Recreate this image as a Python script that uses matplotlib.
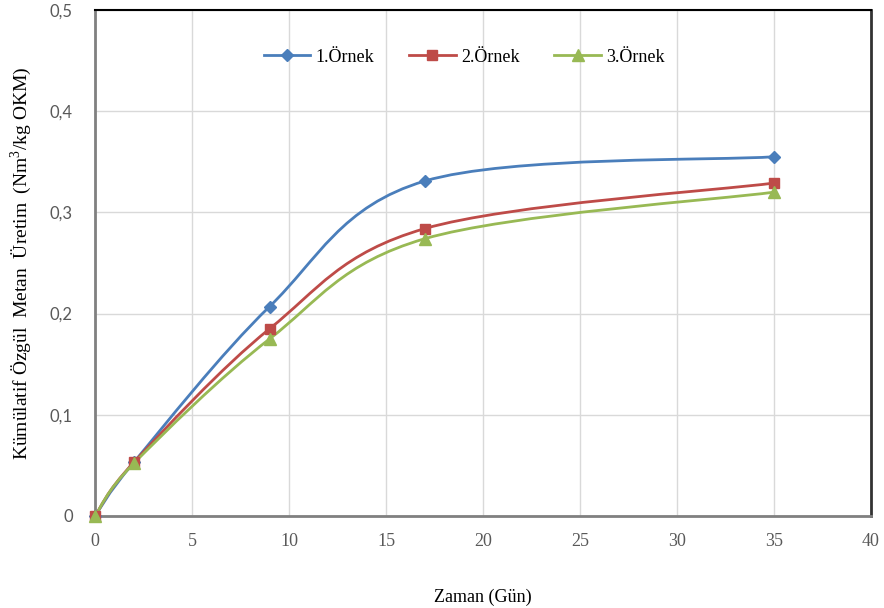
import matplotlib
matplotlib.use("Agg")
import matplotlib.pyplot as plt
from matplotlib.path import Path
from matplotlib.patches import PathPatch
from matplotlib.lines import Line2D
from matplotlib.ticker import FuncFormatter, MultipleLocator

days = [0, 2, 9, 17, 35]
ornek1 = [0.0, 0.053, 0.207, 0.331, 0.355]
ornek2 = [0.0, 0.053, 0.185, 0.284, 0.329]
ornek3 = [0.0, 0.052, 0.175, 0.274, 0.320]
labels = ["1.Örnek", "2.Örnek", "3.Örnek"]
colors = ["#4A7EBB", "#BE4B48", "#98B954"]
markers = ["D", "s", "^"]
msizes = [6, 7, 8]

fig = plt.figure(figsize=(8.84, 6.08), dpi=100)
ax = fig.add_axes([95/884, 92/608, 776/884, 506/608])


def smooth_path(xs, ys):
    pts = list(zip(xs, ys))
    n = len(pts)
    verts = [pts[0]]
    codes = [Path.MOVETO]
    for i in range(n - 1):
        p0 = pts[i - 1] if i > 0 else pts[i]
        p1 = pts[i]
        p2 = pts[i + 1]
        p3 = pts[i + 2] if i + 2 < n else pts[i + 1]
        c1 = (p1[0] + (p2[0] - p0[0]) / 6, p1[1] + (p2[1] - p0[1]) / 6)
        c2 = (p2[0] - (p3[0] - p1[0]) / 6, p2[1] - (p3[1] - p1[1]) / 6)
        verts += [c1, c2, p2]
        codes += [Path.CURVE4] * 3
    return Path(verts, codes)


handles = []
for ys, lab, c, m, ms in zip([ornek1, ornek2, ornek3], labels, colors, markers, msizes):
    patch = PathPatch(smooth_path(days, ys), facecolor="none", edgecolor=c,
                      lw=2.0, zorder=3, capstyle="round", joinstyle="round")
    ax.add_patch(patch)
    ax.plot(days, ys, linestyle="none", marker=m, color=c, markersize=ms,
            zorder=4, clip_on=False)
    handles.append(Line2D([], [], color=c, lw=2.0, marker=m, markersize=ms, label=lab))

ax.set_xlim(0, 40)
ax.set_ylim(0, 0.5)
ax.xaxis.set_major_locator(MultipleLocator(5))
ax.yaxis.set_major_locator(MultipleLocator(0.1))
ax.yaxis.set_major_formatter(FuncFormatter(lambda v, p: "0" if abs(v) < 1e-9 else f"{v:.1f}".replace(".", ",")))
ax.grid(True, color="#D9D9D9", lw=1.0)
ax.set_axisbelow(True)

for s in ["left", "bottom"]:
    ax.spines[s].set_color("#808080")
    ax.spines[s].set_linewidth(2.0)
ax.spines["top"].set_color("#000000")
ax.spines["top"].set_linewidth(1.5)
ax.spines["right"].set_color("#333333")
ax.spines["right"].set_linewidth(2.0)

ax.tick_params(length=0, colors="#595959")
ax.tick_params(axis="x", pad=12, labelsize=13, labelfontfamily="Liberation Serif")
ax.tick_params(axis="y", pad=16, labelsize=12, labelfontfamily="Lato")

ax.set_xlabel("Zaman (Gün)", fontfamily="Liberation Serif", fontsize=13, labelpad=28)
ax.set_ylabel("Kümülatif Özgül  Metan  Üretim  (Nm$^{\\mathregular{3}}$/kg OKM)",
              fontfamily="Liberation Serif", fontsize=14, labelpad=11)

leg = ax.legend(handles=handles, loc="center", bbox_to_anchor=(0.476, 0.907), ncol=3,
                frameon=False, prop={"family": "Liberation Serif", "size": 13},
                handlelength=2.6, columnspacing=1.9, handletextpad=0.3)

fig.savefig("out.png", dpi=100)
